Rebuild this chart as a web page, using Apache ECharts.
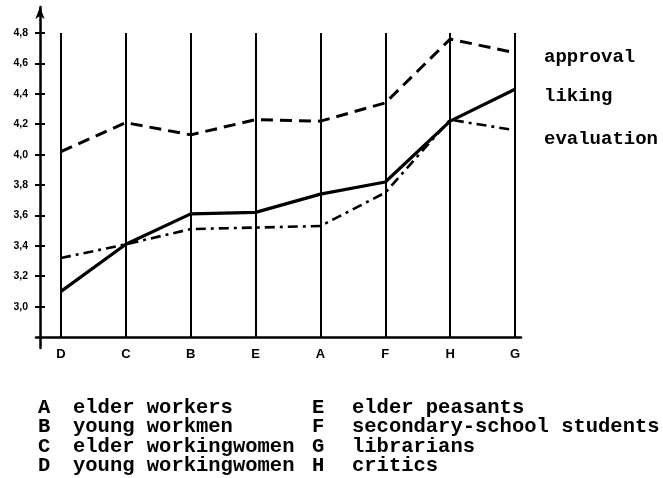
<!DOCTYPE html>
<html>
<head>
<meta charset="utf-8">
<script src="https://cdn.jsdelivr.net/npm/echarts@6/dist/echarts.min.js"></script>
<style>
html,body{margin:0;padding:0;background:#fff;}
#chart{width:663px;height:478px;}
</style>
</head>
<body>
<div id="chart"></div>
<script>
var categories = ['D','C','B','E','A','F','H','G'];
var approval   = [4.02, 4.21, 4.13, 4.23, 4.22, 4.34, 4.76, 4.67];
var liking     = [3.10, 3.41, 3.61, 3.62, 3.74, 3.82, 4.22, 4.43];
var evaluation = [3.32, 3.41, 3.51, 3.52, 3.53, 3.75, 4.23, 4.16];
var seriesNames = ['approval','liking','evaluation'];
var yTickValues = [3.0,3.2,3.4,3.6,3.8,4.0,4.2,4.4,4.6,4.8];
var yTickLabels = ['3,0','3,2','3,4','3,6','3,8','4,0','4,2','4,4','4,6','4,8'];
var keyLettersLeft  = ['A','B','C','D'];
var keyNamesLeft    = ['elder workers','young workmen','elder workingwomen','young workingwomen'];
var keyLettersRight = ['E','F','G','H'];
var keyNamesRight   = ['elder peasants','secondary-school students','librarians','critics'];

var ink = '#000';
var mono = '"Liberation Mono","DejaVu Sans Mono",monospace';

var chart = echarts.init(document.getElementById('chart'), null, {renderer:'canvas'});

var graphics = [];
var seriesLabelY = [59, 98, 141];
seriesNames.forEach(function(n, i){
  graphics.push({type:'text', left:544, top:seriesLabelY[i]-11,
    style:{text:n, font:'bold 19px ' + mono, fill:ink}});
});
var rowY = [409, 428.5, 448, 467.5];
for (var i = 0; i < 4; i++) {
  graphics.push({type:'text', left:38, top:rowY[i]-12, style:{text:keyLettersLeft[i], font:'bold 20.5px ' + mono, fill:ink}});
  graphics.push({type:'text', left:73, top:rowY[i]-12, style:{text:keyNamesLeft[i], font:'bold 20.5px ' + mono, fill:ink}});
  graphics.push({type:'text', left:312, top:rowY[i]-12, style:{text:keyLettersRight[i], font:'bold 20.5px ' + mono, fill:ink}});
  graphics.push({type:'text', left:352, top:rowY[i]-12, style:{text:keyNamesRight[i], font:'bold 20.5px ' + mono, fill:ink}});
}

var option = {
  backgroundColor:'#fff',
  animation:false,
  grid:[
    {left:61, right:148, top:33, bottom:141},
    {left:40, right:200, top:7, bottom:130},
    {left:36, right:142, top:33, bottom:141}
  ],
  xAxis:[
    {gridIndex:0, type:'category', data:categories, boundaryGap:false,
     axisLine:{show:false}, axisTick:{show:false},
     axisLabel:{color:ink, fontFamily:'"Liberation Sans",Arial,sans-serif', fontWeight:'bold', fontSize:13, margin:11},
     splitLine:{show:true, lineStyle:{color:ink, width:2}}},
    {gridIndex:1, type:'value', show:false},
    {gridIndex:2, type:'value', min:0, max:1,
     axisLine:{show:true, onZero:false, lineStyle:{color:ink, width:2.5}},
     axisTick:{show:false}, axisLabel:{show:false}, splitLine:{show:false}}
  ],
  yAxis:[
    {gridIndex:0, type:'value', min:2.8, max:4.8, show:false},
    {gridIndex:1, type:'value', position:'left', offset:0, min:2.728, max:4.971,
     axisLine:{show:true, onZero:false, symbol:['none','arrow'], symbolSize:[7,12], lineStyle:{color:ink, width:2.5}},
     axisTick:{show:true, customValues:yTickValues, length:5, lineStyle:{color:ink, width:2}},
     axisLabel:{show:true, customValues:yTickValues, margin:12, color:ink,
       fontFamily:'"Liberation Sans",Arial,sans-serif', fontWeight:'bold', fontSize:10.5,
       formatter:function(v){ var k = yTickValues.findIndex(function(t){return Math.abs(t-v)<1e-6;}); return k>=0 ? yTickLabels[k] : ''; }},
     splitLine:{show:false}},
    {gridIndex:1, type:'value', position:'left', offset:0, min:2.728, max:4.971,
     axisLine:{show:false, onZero:false},
     axisTick:{show:true, inside:true, customValues:yTickValues, length:5, lineStyle:{color:ink, width:2}},
     axisLabel:{show:false}, splitLine:{show:false}},
    {gridIndex:2, type:'value', show:false}
  ],
  series:[
    {name:seriesNames[0], type:'line', xAxisIndex:0, yAxisIndex:0, data:approval, showSymbol:false,
     lineStyle:{color:ink, width:3, type:[12,7]}},
    {name:seriesNames[1], type:'line', xAxisIndex:0, yAxisIndex:0, data:liking, showSymbol:false,
     lineStyle:{color:ink, width:3.2, type:'solid'}},
    {name:seriesNames[2], type:'line', xAxisIndex:0, yAxisIndex:0, data:evaluation, showSymbol:false,
     lineStyle:{color:ink, width:2.6, type:[10,5,3,5]}}
  ],
  graphic:graphics
};
chart.setOption(option);
</script>
</body>
</html>
